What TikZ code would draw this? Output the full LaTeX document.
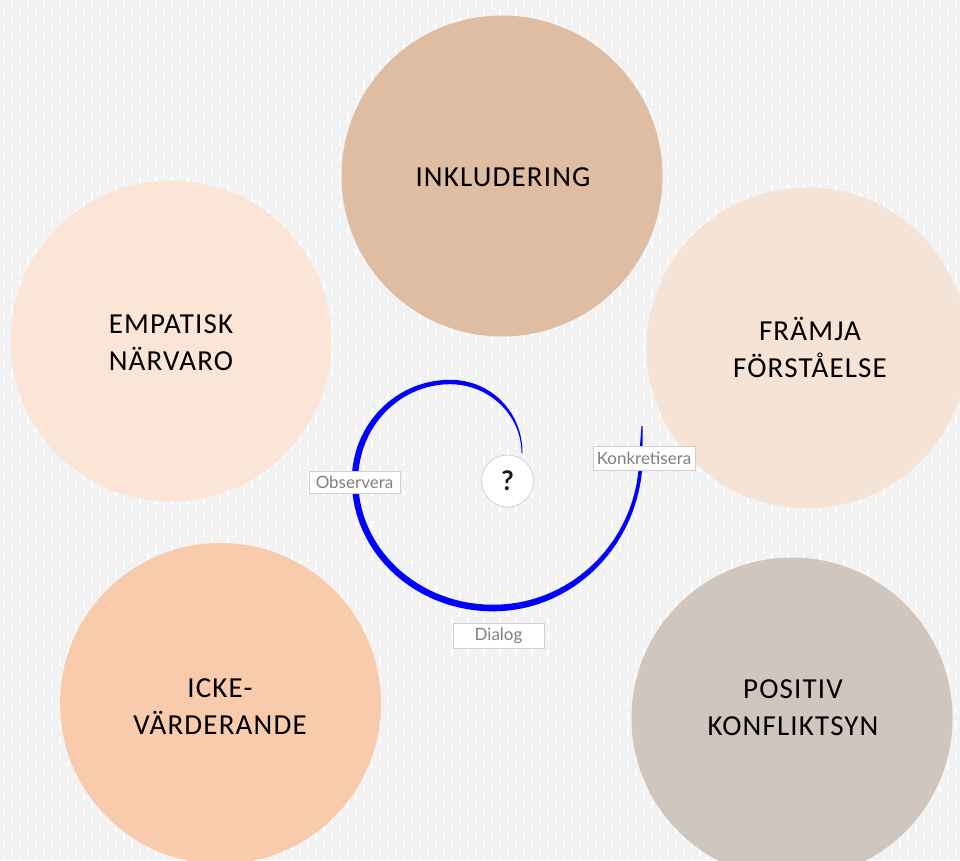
\documentclass[tikz,border=0pt]{standalone}
\usepackage{fontspec}
\setmainfont{Carlito}
\newfontfamily\latofont{Lato}
\definecolor{bggray}{HTML}{F2F2F2}
\definecolor{cinkl}{HTML}{DFBDA3}
\definecolor{cemp}{HTML}{FBE5D6}
\definecolor{cfram}{HTML}{F5E3D6}
\definecolor{cicke}{HTML}{F8CBAD}
\definecolor{cpos}{HTML}{D1C6BD}
\definecolor{tagborder}{HTML}{D0D0D0}
\definecolor{taggray}{HTML}{7F7F7F}
\definecolor{spiralblue}{HTML}{0000FF}
\newcommand{\myTop}{\rule{0pt}{0.9em}}
\newcommand{\myBot}{\rule[-0.25em]{0pt}{0pt}}
\begin{document}
\begin{tikzpicture}[x=1pt,y=-1pt,
  disc/.style={circle,minimum size=321pt,inner sep=0pt,draw=none},
  ctext/.style={font=\fontsize{29}{37}\selectfont\addfontfeatures{LetterSpace=4},align=center,text=black,inner sep=0pt},
  tag/.style={draw=tagborder,fill=white,line width=0.8pt,font=\latofont\fontsize{17}{19}\selectfont,text=taggray,inner sep=0pt},
  dashcol/.style={white,line width=2pt,dash pattern=on 8pt off 8pt}
]
\useasboundingbox (0,0) rectangle (960,860);
\clip (0,0) rectangle (960,860);
\fill[bggray] (0,0) rectangle (960,860);
\foreach \k in {0,...,59} {
  \draw[dashcol] ({3.5+16*\k},-7) -- ({3.5+16*\k},870);
  \draw[dashcol] ({11.5+16*\k},1) -- ({11.5+16*\k},870);
}
% circles
\node[disc,fill=cinkl] (inkl) at (502,176) {};
\node[disc,fill=cemp] (emp) at (171,341) {};
\node[disc,fill=cfram] (fram) at (807,348) {};
\node[disc,fill=cicke] (icke) at (220.5,703.5) {};
\node[disc,fill=cpos] (pos) at (792,718) {};
% texts
\node[ctext] (tinkl) at (503,177) {\myTop INKLUDERING\myBot};
\node[ctext] (temp) at (171,343) {\myTop EMPATISK\\NÄRVARO\myBot};
\node[ctext] (tfram) at (810,350) {\myTop FRÄMJA\\FÖRSTÅELSE\myBot};
\node[ctext] (ticke) at (220,707) {\myTop ICKE-\\VÄRDERANDE\myBot};
\node[ctext] (tpos) at (793,708) {\myTop POSITIV\\KONFLIKTSYN\myBot};
% spiral
\fill[spiralblue]
  (522.5,453) .. controls (522.5,412) and (491,379.8) .. (450,379.8)
  .. controls (395.5,379.8) and (351.8,425) .. (351.8,480)
  .. controls (351.8,552.5) and (415,611.3) .. (493,611.3)
  .. controls (575.8,611.3) and (642.8,541) .. (642.8,455)
  -- (642.5,426) -- (641.5,426) -- (639.2,455)
  .. controls (639.2,538) and (573.6,604.7) .. (493,604.7)
  .. controls (418.6,604.7) and (358.2,549) .. (358.2,480)
  .. controls (358.2,427) and (399.5,384.2) .. (450,384.2)
  .. controls (489,384.2) and (521.5,415) .. (521.5,453)
  -- cycle;
% question circle
\node[circle,draw=tagborder,fill=white,line width=0.8pt,minimum size=52pt,inner sep=0pt,
      font=\latofont\bfseries\fontsize{27}{29}\selectfont,text=black!90] (q) at (507.5,481) {?};
% tags
\node[tag,minimum width=91pt,minimum height=22pt] (obs) at (354.5,482) {Observera};
\node[tag,minimum width=102pt,minimum height=24pt] (konk) at (644,458) {Konkretisera};
\node[tag,minimum width=91pt,minimum height=25pt] (dial) at (498.5,635.5) {Dialog};
\end{tikzpicture}
\end{document}
